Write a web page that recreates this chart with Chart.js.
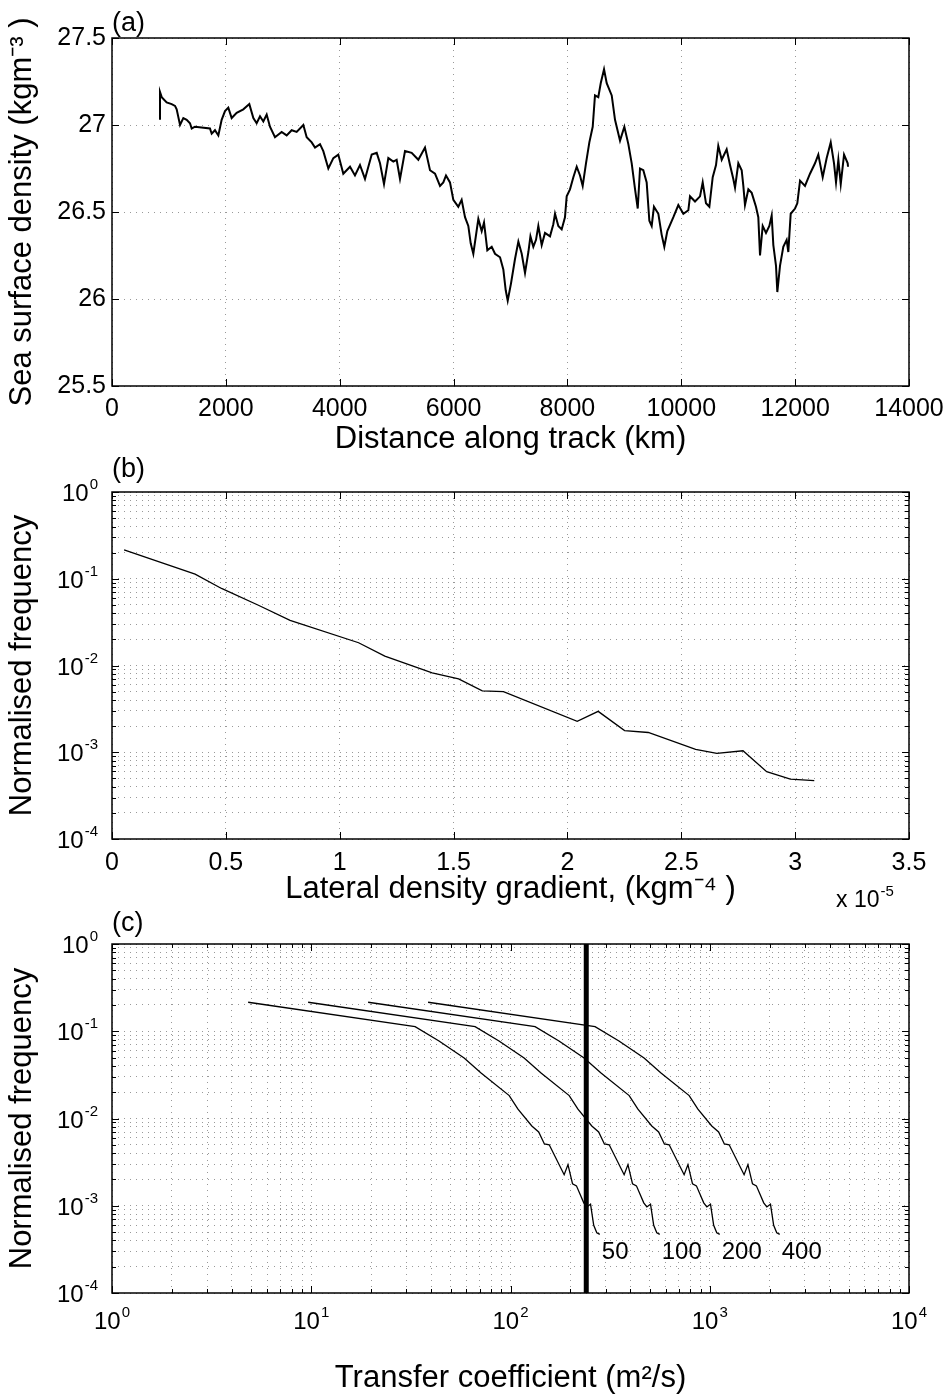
<!DOCTYPE html>
<html>
<head>
<meta charset="utf-8">
<title>Sea surface density, gradients and transfer coefficient</title>
<script src="https://cdn.jsdelivr.net/npm/chart.js@4.4.1/dist/chart.umd.min.js"></script>
<style>
  html, body { margin: 0; padding: 0; background: #fff; }
  #page { position: relative; width: 945px; height: 1399px; overflow: hidden; }
  #page canvas { position: absolute; left: 0; }
</style>
</head>
<body>
<div id="page">
  <canvas id="densityChart" width="945" height="465" style="top:0"></canvas>
  <canvas id="gradientChart" width="945" height="470" style="top:450px"></canvas>
  <canvas id="transferChart" width="945" height="504" style="top:895px"></canvas>
</div>
<script>
// (a) sea surface density along the track
const distanceKm = [843, 843, 873, 960, 1048, 1107, 1136, 1195, 1253, 1312,
  1370, 1400, 1458, 1721, 1751, 1809, 1868, 1926, 1985, 2043,
  2102, 2190, 2307, 2412, 2483, 2541, 2600, 2658, 2717, 2775,
  2863, 2980, 3068, 3156, 3244, 3361, 3420, 3508, 3566, 3654,
  3712, 3800, 3888, 3975, 4063, 4181, 4268, 4356, 4444, 4562,
  4650, 4708, 4778, 4854, 4942, 5000, 5059, 5147, 5264, 5381,
  5498, 5586, 5674, 5762, 5820, 5867, 5937, 5996, 6083, 6142,
  6201, 6259, 6301, 6347, 6435, 6494, 6535, 6593, 6670, 6728,
  6816, 6874, 6916, 6951, 7009, 7079, 7138, 7197, 7255, 7314,
  7350, 7401, 7448, 7489, 7548, 7606, 7694, 7752, 7782, 7840,
  7899, 7957, 7987, 8045, 8104, 8163, 8221, 8268, 8326, 8385,
  8444, 8484, 8542, 8585, 8643, 8690, 8778, 8836, 8924, 9000,
  9070, 9129, 9188, 9235, 9275, 9333, 9392, 9439, 9480, 9520,
  9597, 9655, 9702, 9755, 9861, 9948, 10036, 10124, 10153, 10241,
  10329, 10376, 10434, 10493, 10552, 10610, 10650, 10710, 10797, 10856,
  10914, 10944, 11002, 11061, 11090, 11119, 11178, 11237, 11312, 11353,
  11383, 11430, 11488, 11547, 11588, 11617, 11664, 11687, 11734, 11792,
  11851, 11880, 11922, 11998, 12038, 12086, 12173, 12261, 12349, 12407,
  12484, 12554, 12625, 12683, 12718, 12759, 12801, 12859, 12923, 12929];
const density = [27.03, 27.19, 27.16, 27.13, 27.12, 27.11, 27.09, 27.00, 27.04, 27.03,
  27.01, 26.98, 26.99, 26.98, 26.95, 26.97, 26.94, 27.03, 27.08, 27.10,
  27.04, 27.07, 27.09, 27.12, 27.04, 27.01, 27.05, 27.02, 27.06, 26.99,
  26.93, 26.96, 26.94, 26.97, 26.96, 27.00, 26.93, 26.90, 26.87, 26.89,
  26.85, 26.75, 26.81, 26.83, 26.72, 26.76, 26.71, 26.77, 26.69, 26.83,
  26.84, 26.78, 26.66, 26.81, 26.79, 26.80, 26.69, 26.85, 26.84, 26.80,
  26.87, 26.74, 26.72, 26.65, 26.67, 26.71, 26.67, 26.57, 26.53, 26.57,
  26.47, 26.42, 26.32, 26.26, 26.46, 26.39, 26.44, 26.28, 26.30, 26.26,
  26.24, 26.17, 26.05, 25.99, 26.09, 26.23, 26.33, 26.26, 26.15, 26.27,
  26.36, 26.30, 26.34, 26.42, 26.31, 26.38, 26.36, 26.43, 26.49, 26.42,
  26.40, 26.47, 26.59, 26.63, 26.70, 26.76, 26.71, 26.65, 26.78, 26.90,
  26.99, 27.17, 27.16, 27.24, 27.32, 27.24, 27.17, 27.03, 26.91, 26.99,
  26.89, 26.78, 26.63, 26.52, 26.75, 26.74, 26.67, 26.45, 26.42, 26.53,
  26.49, 26.37, 26.30, 26.39, 26.47, 26.54, 26.49, 26.51, 26.59, 26.56,
  26.59, 26.67, 26.55, 26.53, 26.70, 26.77, 26.88, 26.80, 26.86, 26.77,
  26.69, 26.64, 26.78, 26.74, 26.65, 26.54, 26.63, 26.61, 26.53, 26.47,
  26.25, 26.42, 26.38, 26.42, 26.48, 26.31, 26.19, 26.04, 26.19, 26.30,
  26.34, 26.27, 26.49, 26.52, 26.55, 26.68, 26.65, 26.72, 26.78, 26.83,
  26.70, 26.81, 26.90, 26.78, 26.67, 26.80, 26.66, 26.83, 26.78, 26.76];
const distanceTicks = [0, 2000, 4000, 6000, 8000, 10000, 12000, 14000];
const densityTicks = [25.5, 26, 26.5, 27, 27.5];

// (b) distribution of the lateral density gradient (x in units of 1e-5 kg m^-4)
const gradient = [0.053, 0.365, 0.481, 0.643, 0.782, 1.083, 1.198, 1.406, 1.522, 1.626,
  1.719, 2.043, 2.135, 2.251, 2.355, 2.563, 2.656, 2.771, 2.875, 2.979, 3.084];
const frequency = [0.215, 0.113, 0.0773, 0.0495, 0.0332, 0.0183, 0.0128, 0.0082, 0.0070, 0.0051,
  0.0050, 0.00227, 0.00296, 0.00178, 0.00169, 0.00108, 0.00097, 0.00104, 0.000597, 0.000491, 0.000470];
const gradientTicks = [0, 0.5, 1, 1.5, 2, 2.5, 3, 3.5];
const freqDecades = [1e-4, 1e-3, 1e-2, 1e-1, 1];
const freqExponents = ['-4', '-3', '-2', '-1', '0'];

// (c) same distribution against transfer coefficient, one curve per scale
const curveNames = ['50', '100', '200', '400'];
const transferPerGradient = [91, 182, 364, 728]; // m2/s per 1e-5 kg m^-4
const markedTransfer = 240;
const transferDecades = [1, 10, 100, 1000, 10000];
const transferExponents = ['0', '1', '2', '3', '4'];

const FONT = "'Liberation Sans', Arial, Helvetica, sans-serif";
Chart.defaults.font.family = FONT;
Chart.defaults.color = '#000';

const GRID = { color: 'rgba(0,0,0,0.4)', lineWidth: 1, drawTicks: false };
const DOTS = { display: false, dash: [1, 5] };

function fixWidth(w) {
  return s => { s.width = w; s.paddingLeft = s.paddingRight = s.paddingTop = s.paddingBottom = 0; };
}
function fixHeight(h) {
  return s => { s.height = h; s.paddingLeft = s.paddingRight = s.paddingTop = s.paddingBottom = 0; };
}
function useTicks(values) {
  return s => { s.ticks = values.map(v => ({ value: v })); };
}
function logTicks(decades) {
  const out = [];
  decades.forEach((d, i) => {
    if (i === decades.length - 1) { out.push(d); return; }
    for (let m = 1; m <= 9; m++) out.push(m * d);
  });
  return out;
}
function isDecade(v) {
  const l = Math.log10(v);
  return Math.abs(l - Math.round(l)) < 1e-6;
}

// box, inward ticks on all four sides and the panel letter, like matlab axes
const matlabAxes = {
  id: 'matlabAxes',
  afterDraw(chart, args, opts) {
    const { ctx, chartArea: a } = chart;
    const { x, y } = chart.scales;
    ctx.save();
    ctx.strokeStyle = '#000';
    ctx.lineWidth = 1;
    const len = (scale, v) => (scale.type === 'logarithmic' && !isDecade(v)) ? 4 : 7;
    x.ticks.forEach(t => {
      const p = Math.round(x.getPixelForValue(t.value)) + 0.5;
      const l = len(x, t.value);
      ctx.beginPath();
      ctx.moveTo(p, a.bottom); ctx.lineTo(p, a.bottom - l);
      ctx.moveTo(p, a.top); ctx.lineTo(p, a.top + l);
      ctx.stroke();
    });
    y.ticks.forEach(t => {
      const p = Math.round(y.getPixelForValue(t.value)) + 0.5;
      const l = len(y, t.value);
      ctx.beginPath();
      ctx.moveTo(a.left, p); ctx.lineTo(a.left + l, p);
      ctx.moveTo(a.right, p); ctx.lineTo(a.right - l, p);
      ctx.stroke();
    });
    ctx.lineWidth = 1.5;
    ctx.strokeRect(a.left, a.top, a.right - a.left, a.bottom - a.top);
    ctx.fillStyle = '#000';
    ctx.font = '27px ' + FONT;
    ctx.textAlign = 'left';
    ctx.textBaseline = 'alphabetic';
    ctx.fillText(opts.letter, a.left, a.top - opts.gap);

    // power-of-ten labels: "10" with a raised exponent
    ctx.textBaseline = 'alphabetic';
    const power = (px, py, exp, mode) => {
      ctx.font = '24px ' + FONT;
      const wb = ctx.measureText('10').width;
      ctx.font = '15px ' + FONT;
      const we = ctx.measureText(exp).width;
      const left = mode === 'right' ? px - wb - 1 - we : px - (wb + 1 + we) / 2;
      ctx.font = '24px ' + FONT;
      ctx.fillText('10', left, py + 9);
      ctx.font = '15px ' + FONT;
      ctx.fillText(exp, left + wb + 1, py - 3);
    };
    (opts.yPowers || []).forEach((exp, i) => {
      power(a.left - 14, y.getPixelForValue(opts.yDecades[i]), exp, 'right');
    });
    (opts.xPowers || []).forEach((exp, i) => {
      power(x.getPixelForValue(opts.xDecades[i]), a.bottom + 27, exp, 'center');
    });
    ctx.restore();
  }
};

function baseOptions(axesOpts, top) {
  return {
    responsive: false,
    animation: false,
    events: [],
    layout: { padding: { top: top, right: 36, bottom: 0, left: 0 } },
    plugins: { legend: { display: false }, tooltip: { enabled: false }, matlabAxes: axesOpts },
    elements: { point: { radius: 0 }, line: { tension: 0 } }
  };
}

// Panel (a)
new Chart(document.getElementById('densityChart'), {
  type: 'line',
  data: {
    datasets: [{
      data: distanceKm.map((d, i) => ({ x: d, y: density[i] })),
      borderColor: '#000',
      borderWidth: 2,
      fill: false
    }]
  },
  options: {
    ...baseOptions({ letter: '(a)', gap: 7 }, 38),
    scales: {
      x: {
        type: 'linear', min: 0, max: 14000,
        afterBuildTicks: useTicks(distanceTicks),
        afterFit: fixHeight(79),
        grid: GRID, border: DOTS,
        ticks: { font: { size: 25 }, padding: 8, maxRotation: 0, autoSkip: false, callback: v => String(v) },
        title: { display: true, text: 'Distance along track (km)', font: { size: 31 }, padding: { top: 0, bottom: 7 } }
      },
      y: {
        type: 'linear', min: 25.5, max: 27.5,
        afterBuildTicks: useTicks(densityTicks),
        afterFit: fixWidth(112),
        grid: GRID, border: DOTS,
        ticks: { font: { size: 25 }, padding: 6, autoSkip: false, callback: v => String(v) },
        title: { display: true, text: 'Sea surface density (kgm⁻³ )', font: { size: 31 }, padding: { top: 4, bottom: 0 } }
      }
    }
  },
  plugins: [matlabAxes]
});

// Panel (b)
const exponentLabel = {
  id: 'exponentLabel',
  afterDraw(chart) {
    const { ctx, chartArea: a } = chart;
    ctx.save();
    ctx.fillStyle = '#000';
    ctx.textAlign = 'left';
    ctx.textBaseline = 'alphabetic';
    ctx.font = '23px ' + FONT;
    const base = 'x 10';
    const x0 = a.right - 73, y0 = a.bottom + 68;
    ctx.fillText(base, x0, y0);
    const w = ctx.measureText(base).width;
    ctx.font = '15px ' + FONT;
    ctx.fillText('-5', x0 + w + 1, y0 - 11);
    ctx.restore();
  }
};

new Chart(document.getElementById('gradientChart'), {
  type: 'line',
  data: {
    datasets: [{
      data: gradient.map((g, i) => ({ x: g, y: frequency[i] })),
      borderColor: '#000',
      borderWidth: 1.3,
      fill: false
    }]
  },
  options: {
    ...baseOptions({ letter: '(b)', gap: 15, yDecades: freqDecades, yPowers: freqExponents }, 42),
    scales: {
      x: {
        type: 'linear', min: 0, max: 3.5,
        afterBuildTicks: useTicks(gradientTicks),
        afterFit: fixHeight(81),
        grid: GRID, border: DOTS,
        ticks: { font: { size: 25 }, padding: 9, maxRotation: 0, autoSkip: false, callback: v => String(v) },
        title: { display: true, text: 'Lateral density gradient, (kgm⁻⁴ )', font: { size: 31 }, padding: { top: 0, bottom: 12 } }
      },
      y: {
        type: 'logarithmic', min: 1e-4, max: 1,
        afterBuildTicks: useTicks(logTicks(freqDecades)),
        afterFit: fixWidth(112),
        grid: GRID, border: DOTS,
        ticks: { display: false, autoSkip: false },
        title: { display: true, text: 'Normalised frequency', font: { size: 31 }, padding: { top: 4, bottom: 0 } }
      }
    }
  },
  plugins: [matlabAxes, exponentLabel]
});

// Panel (c)
const curveLabels = {
  id: 'curveLabels',
  afterDraw(chart) {
    const { ctx } = chart;
    ctx.save();
    ctx.fillStyle = '#000';
    ctx.font = '24px ' + FONT;
    ctx.textAlign = 'left';
    ctx.textBaseline = 'middle';
    curveNames.forEach((name, i) => {
      const pts = chart.getDatasetMeta(i).data;
      const end = pts[pts.length - 1];
      ctx.fillText(name, end.x + 2, end.y + 18);
    });
    ctx.restore();
  }
};

const transferSets = curveNames.map((name, k) => ({
  label: name,
  data: gradient.map((g, i) => ({ x: g * transferPerGradient[k], y: frequency[i] })),
  borderColor: '#000',
  borderWidth: 1.3,
  fill: false
}));
transferSets.push({
  label: 'marked',
  data: [{ x: markedTransfer, y: freqDecades[0] }, { x: markedTransfer, y: freqDecades[freqDecades.length - 1] }],
  borderColor: '#000',
  borderWidth: 5,
  fill: false
});

new Chart(document.getElementById('transferChart'), {
  type: 'line',
  data: { datasets: transferSets },
  options: {
    ...baseOptions({ letter: '(c)', gap: 13, yDecades: freqDecades, yPowers: freqExponents,
      xDecades: transferDecades, xPowers: transferExponents }, 49),
    scales: {
      x: {
        type: 'logarithmic', min: 1, max: 10000,
        afterBuildTicks: useTicks(logTicks(transferDecades)),
        afterFit: fixHeight(106),
        grid: GRID, border: DOTS,
        ticks: { display: false, autoSkip: false },
        title: { display: true, text: 'Transfer coefficient (m²/s)', font: { size: 31 }, padding: { top: 0, bottom: 2 } }
      },
      y: {
        type: 'logarithmic', min: 1e-4, max: 1,
        afterBuildTicks: useTicks(logTicks(freqDecades)),
        afterFit: fixWidth(112),
        grid: GRID, border: DOTS,
        ticks: { display: false, autoSkip: false },
        title: { display: true, text: 'Normalised frequency', font: { size: 31 }, padding: { top: 4, bottom: 0 } }
      }
    }
  },
  plugins: [matlabAxes, curveLabels]
});
</script>
</body>
</html>
